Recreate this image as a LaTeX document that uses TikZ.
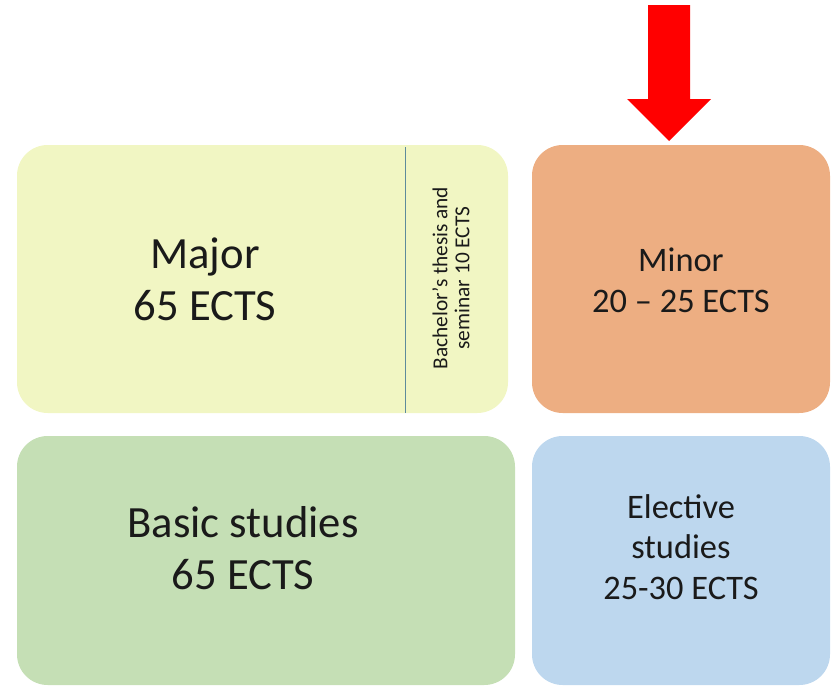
\documentclass[tikz,border=0pt]{standalone}
\usepackage{fontspec}
\setmainfont{Carlito}
\definecolor{majorfill}{HTML}{F1F6C3}
\definecolor{minorfill}{HTML}{EDAE82}
\definecolor{basicfill}{HTML}{C5DFB5}
\definecolor{electfill}{HTML}{BDD7EE}
\definecolor{divline}{HTML}{5E8B9B}
\definecolor{txt}{HTML}{1A1A1A}
\begin{document}
\begin{tikzpicture}[x=0.75pt,y=-0.75pt,
  box/.style={rectangle,rounded corners=23pt,draw=none,inner sep=0pt,outer sep=0pt},
  bigtxt/.style={align=center,text=txt,font=\fontsize{33.5}{39}\selectfont},
  midtxt/.style={align=center,text=txt,font=\fontsize{25.8}{30.5}\selectfont},
  smalltxt/.style={align=center,text=txt,font=\fontsize{16}{16.5}\selectfont}]
\useasboundingbox (0,0) rectangle (833,686);
% boxes
\node[box,fill=majorfill,minimum width=368.25pt,minimum height=201pt] (major) at (262.5,279) {};
\node[box,fill=minorfill,minimum width=223.5pt,minimum height=201pt] (minor) at (681,279) {};
\node[box,fill=basicfill,minimum width=373.5pt,minimum height=186.75pt] (basic) at (266,560.5) {};
\node[box,fill=electfill,minimum width=223.5pt,minimum height=186.75pt] (elect) at (681,560.5) {};
% divider
\coordinate (dtop) at (405,147);
\coordinate (dbot) at (405,413);
\draw[divline,line width=0.6pt] (dtop) -- (dbot);
% labels
\node[bigtxt] (majorlbl) at (205,279) {Major\\65 ECTS};
\node[smalltxt,rotate=90] (thesis) at (451,278) {Bachelor’s thesis and\\seminar 10 ECTS};
\node[midtxt] (minorlbl) at (681,280) {Minor\\20 – 25 ECTS};
\node[bigtxt] (basiclbl) at (243,548) {Basic studies\\65 ECTS};
\node[midtxt] (electlbl) at (681,547) {Elective\\studies\\25-30 ECTS};
% red arrow
\fill[red] (648,5) -- (690,5) -- (690,99) -- (711,99) -- (669,141) -- (627,99) -- (648,99) -- cycle;
\end{tikzpicture}
\end{document}
